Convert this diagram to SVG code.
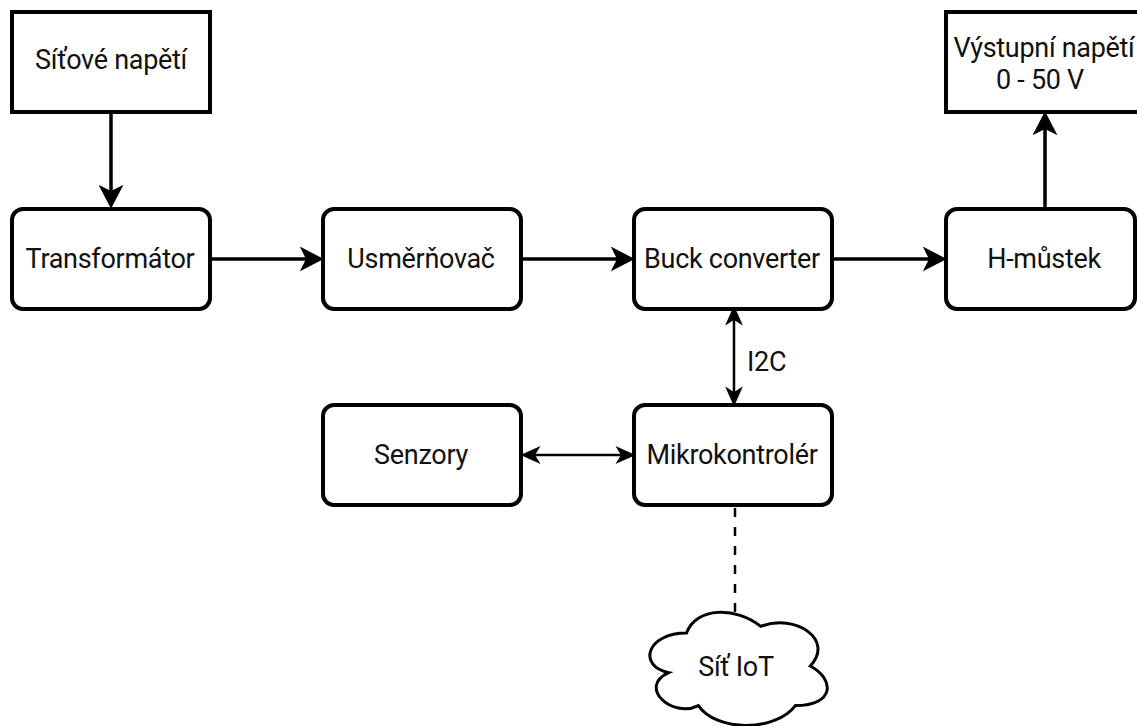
<svg xmlns="http://www.w3.org/2000/svg" width="1137" height="726" viewBox="0 0 1137 726">
<style>
.box{fill:#fff;stroke:#000;stroke-width:4}
.lbl{font-family:Roboto,"Liberation Sans",sans-serif;font-size:27px;fill:#111;text-anchor:middle;letter-spacing:-0.3px}
.main{stroke:#000;stroke-width:3.5;fill:none}
.thin{stroke:#000;stroke-width:2.5;fill:none}
.dash{stroke:#000;stroke-width:2.5;fill:none;stroke-dasharray:9 10}
</style>
<defs>
<marker id="big" markerUnits="userSpaceOnUse" markerWidth="24" markerHeight="25" viewBox="0 0 23 24" refX="6" refY="12" orient="auto-start-reverse">
<path d="M0,0 L23,12 L0,24 L6,12 Z" fill="#000"/>
</marker>
<marker id="small" markerUnits="userSpaceOnUse" markerWidth="20" markerHeight="18" viewBox="0 0 18 16" refX="5" refY="8" orient="auto-start-reverse">
<path d="M0,0 L18,8 L0,16 L5,8 Z" fill="#000"/>
</marker>
</defs>
<rect width="1137" height="726" fill="#fff"/>
<g id="connectors">
<line class="main" x1="111" y1="114" x2="111" y2="191" marker-end="url(#big)"/>
<line class="main" x1="212" y1="259" x2="306" y2="259" marker-end="url(#big)"/>
<line class="main" x1="523" y1="259" x2="617" y2="259" marker-end="url(#big)"/>
<line class="main" x1="834" y1="259" x2="929" y2="259" marker-end="url(#big)"/>
<line class="main" x1="1045" y1="208" x2="1045" y2="129" marker-end="url(#big)"/>
<line class="thin" x1="734" y1="320" x2="734" y2="392" marker-start="url(#small)" marker-end="url(#small)"/>
<line class="thin" x1="535" y1="455" x2="621" y2="455" marker-start="url(#small)" marker-end="url(#small)"/>
<line class="dash" x1="735" y1="508" x2="735" y2="613"/>
<text x="747" y="371" class="lbl" style="text-anchor:start">I2C</text>
</g>
<g id="n-sitove">
<rect class="box" x="12" y="12" width="198" height="100"/>
<text class="lbl" x="111" y="69">Síťové napětí</text>
</g>
<g id="n-vystup">
<rect class="box" x="946" y="12" width="200" height="100"/>
<text class="lbl" x="1044" y="57">Výstupní napětí</text>
<text class="lbl" x="1040" y="89">0 - 50 V</text>
</g>
<g id="n-transformator">
<rect class="box" x="12" y="209" width="198" height="100" rx="11"/>
<text class="lbl" x="110" y="268">Transformátor</text>
</g>
<g id="n-usmernovac">
<rect class="box" x="323" y="209" width="198" height="100" rx="11"/>
<text class="lbl" x="421" y="268">Usměrňovač</text>
</g>
<g id="n-buck">
<rect class="box" x="634" y="209" width="198" height="100" rx="11"/>
<text class="lbl" x="732" y="268">Buck converter</text>
</g>
<g id="n-hmustek">
<rect class="box" x="946" y="209" width="189" height="100" rx="11"/>
<text class="lbl" x="1044" y="268">H-můstek</text>
</g>
<g id="n-senzory">
<rect class="box" x="323" y="405" width="198" height="100" rx="11"/>
<text class="lbl" x="421" y="464">Senzory</text>
</g>
<g id="n-mikro">
<rect class="box" x="634" y="405" width="198" height="100" rx="11"/>
<text class="lbl" x="732" y="464">Mikrokontrolér</text>
</g>
<g id="n-iot">
<path d="M686.5,633 C646.9,633 637,666 668.7,672.6 C637,687.1 672.6,718.8 698.4,705.6 C716.2,732 775.6,732 795.4,705.6 C835,705.6 835,679.2 810.3,666 C835,639.6 795.4,613.2 760.8,626.4 C736,606.6 696.4,606.6 686.5,633 Z" fill="#fff" stroke="#000" stroke-width="3"/>
<text class="lbl" x="736" y="676">Síť IoT</text>
</g>
</svg>
